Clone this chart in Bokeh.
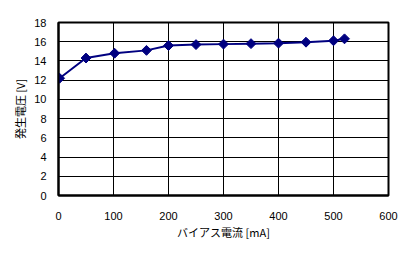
import math
from bokeh.plotting import figure
from bokeh.embed import file_html
from bokeh.resources import INLINE
from bokeh.models import Range1d, FixedTicker

current_ma = [2, 50, 102, 160, 200, 250, 300, 350, 400, 450, 500, 520]
voltage_v = [12.2, 14.3, 14.8, 15.1, 15.6, 15.7, 15.75, 15.8, 15.85, 15.95, 16.1, 16.3]
x_ticks = [0, 100, 200, 300, 400, 500, 600]
y_ticks = [0, 2, 4, 6, 8, 10, 12, 14, 16, 18]

p = figure(width=413, height=254, output_backend="svg", toolbar_location=None,
           x_range=Range1d(0, 600), y_range=Range1d(0, 18))
p.min_border_left = 58
p.min_border_right = 25
p.min_border_top = 22
p.min_border_bottom = 59
p.background_fill_color = "white"
p.border_fill_color = "white"
p.outline_line_color = "black"
p.outline_line_width = 2

for ax in (p.xaxis[0], p.yaxis[0]):
    ax.axis_line_color = "black"
    ax.axis_line_width = 2
    ax.major_tick_line_color = None
    ax.minor_tick_line_color = None
    ax.major_label_text_font = "Liberation Sans"
    ax.major_label_text_font_size = "11px"
    ax.major_label_text_color = "black"
    ax.axis_label_text_font = "Noto Sans CJK JP"
    ax.axis_label_text_font_size = "11px"
    ax.axis_label_text_font_style = "normal"
    ax.axis_label_text_color = "black"

p.xaxis.ticker = FixedTicker(ticks=x_ticks)
p.yaxis.ticker = FixedTicker(ticks=y_ticks)
p.xaxis.major_label_standoff = 10
p.yaxis.major_label_standoff = 6
p.xaxis.axis_label = "バイアス電流 [mA]"
p.yaxis.axis_label = "発生電圧 [V]"
p.xaxis.axis_label_standoff = 1
p.yaxis.axis_label_standoff = 3

p.xgrid.ticker = FixedTicker(ticks=x_ticks)
p.ygrid.ticker = FixedTicker(ticks=y_ticks)
p.xgrid.grid_line_color = "black"
p.ygrid.grid_line_color = "black"
p.xgrid.grid_line_width = 1
p.ygrid.grid_line_width = 1

p.line(current_ma, voltage_v, line_color="#000080", line_width=2)
p.scatter(current_ma, voltage_v, marker="square", size=7, angle=math.pi / 4,
          fill_color="#000080", line_color="#000080")

open("out.html", "w").write(file_html(p, INLINE))
